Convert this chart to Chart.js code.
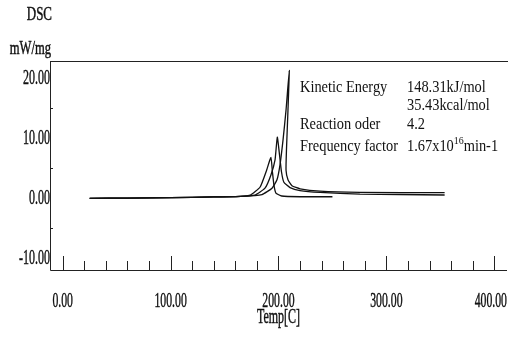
<!DOCTYPE html>
<html>
<head>
<meta charset="utf-8">
<title>DSC</title>
<script src="https://cdn.jsdelivr.net/npm/chart.js@4.4.1/dist/chart.umd.min.js"></script>
<style>
  html, body { margin: 0; padding: 0; background: #fff; }
  #wrap { position: relative; width: 508px; height: 342px; }
</style>
</head>
<body>
<div id="wrap"><canvas id="dscChart"></canvas></div>
<script>
// DSC runs: temperature [C] and heat flow [mW/mg]
const run1Temp = [25, 60, 100, 140, 165, 174, 183, 189, 193, 194.4, 195.8, 197.6, 203, 220, 250];
const run1Dsc  = [0.02, 0.05, 0.12, 0.25, 0.35, 0.55, 1.9, 4.7, 6.85, 4.4, 2.2, 0.9, 0.4, 0.28, 0.28];

const run2Temp = [25, 60, 100, 140, 165, 178, 187.5, 193, 196.8, 198.9, 201, 202.8, 205, 210.7, 220, 238.5, 275.5, 312.6, 354];
const run2Dsc  = [0.02, 0.05, 0.12, 0.25, 0.35, 0.55, 1.7, 3.9, 6.4, 10.2, 7.2, 4.4, 2.7, 1.8, 1.3, 1.0, 0.73, 0.65, 0.57];

const run3Temp = [25, 60, 100, 140, 165, 184.7, 194, 198.6, 201.4, 204.2, 207, 210, 208.8, 207.4, 207, 208.8, 212.5, 220, 238.5, 275.5, 354];
const run3Dsc  = [0.02, 0.05, 0.12, 0.25, 0.35, 0.65, 1.7, 3.1, 5.6, 9.7, 14.7, 21.3, 14.7, 8.1, 4.7, 3.1, 2.1, 1.6, 1.2, 1.0, 0.95];

const xTickLabels = [0, 100, 200, 300, 400];
const yTickLabels = [20, 10, 0, -10];

const kineticRows = [
  ['Kinetic Energy', '148.31kJ/mol'],
  ['', '35.43kcal/mol'],
  ['Reaction oder', '4.2'],
  ['Frequency factor', '1.67x10', '16', 'min-1']
];

const SERIF = '"Liberation Serif", "Times New Roman", serif';

// draws horizontally squeezed text, returns drawn width
function squeezed(ctx, text, x, y, size, sx, align, heavy, maxRight) {
  ctx.save();
  ctx.font = size + 'px ' + SERIF;
  const w = ctx.measureText(text).width * sx;
  let left = x;
  if (align === 'center') left = x - w / 2;
  else if (align === 'right') left = x - w;
  if (maxRight && left + w > maxRight) left = maxRight - w;
  ctx.translate(left, y);
  ctx.scale(sx, 1);
  ctx.fillStyle = '#111';
  ctx.textAlign = 'left';
  ctx.textBaseline = 'middle';
  ctx.fillText(text, 0, 0);
  if (heavy) {
    ctx.strokeStyle = '#111';
    ctx.lineWidth = 0.45;
    ctx.strokeText(text, 0, 0);
  }
  ctx.restore();
  return w;
}

const frame = {
  id: 'frame',
  afterDraw(chart) {
    const { ctx, chartArea: a, scales: { x, y } } = chart;
    ctx.save();
    ctx.strokeStyle = '#222';
    ctx.lineWidth = 1;
    ctx.beginPath();
    ctx.moveTo(a.left + 0.5, a.top);
    ctx.lineTo(a.left + 0.5, a.bottom + 0.5);
    ctx.lineTo(a.right, a.bottom + 0.5);
    ctx.moveTo(a.left, a.top + 0.5);
    ctx.lineTo(chart.width, a.top + 0.5);
    // x ticks every 20, taller every 100
    for (let v = 0; v <= 400; v += 20) {
      const px = Math.round(x.getPixelForValue(v)) + 0.5;
      const len = v % 100 === 0 ? 14 : 9;
      ctx.moveTo(px, a.bottom);
      ctx.lineTo(px, a.bottom - len);
    }
    // small y ticks between labels
    for (let v = -5; v <= 15; v += 10) {
      const py = Math.round(y.getPixelForValue(v)) + 0.5;
      ctx.moveTo(a.left, py);
      ctx.lineTo(a.left + 3, py);
    }
    ctx.stroke();
    ctx.restore();

    xTickLabels.forEach(v => {
      squeezed(ctx, v.toFixed(2), x.getPixelForValue(v), 301, 21, 0.56, 'center', true, chart.width - 1);
    });
    yTickLabels.forEach(v => {
      squeezed(ctx, v.toFixed(2), a.left, y.getPixelForValue(v), 21, 0.57, 'right', true);
    });
    squeezed(ctx, 'DSC', 52, 15, 18, 0.72, 'right', true);
    squeezed(ctx, 'mW/mg', 51, 49, 18, 0.7, 'right', true);
    squeezed(ctx, 'Temp[C]', x.getPixelForValue(200), 318, 20, 0.6, 'center', true);

    // kinetic parameters block
    const rowY = [88, 106, 125, 147];
    kineticRows.forEach((row, i) => {
      if (row[0]) squeezed(ctx, row[0], 300, rowY[i], 16, 0.9, 'left');
      let cx = 407;
      cx += squeezed(ctx, row[1], cx, rowY[i], 16, 0.9, 'left');
      if (row[2]) {
        cx += squeezed(ctx, row[2], cx, rowY[i] - 6, 11, 0.9, 'left');
        squeezed(ctx, row[3], cx, rowY[i], 16, 0.9, 'left');
      }
    });
  }
};

const toPoints = (t, d) => t.map((v, i) => ({ x: v, y: d[i] }));
const curve = (t, d) => ({
  data: toPoints(t, d),
  showLine: true,
  borderColor: '#111',
  borderWidth: 1.3,
  pointRadius: 0,
  tension: 0.15,
  fill: false
});

new Chart(document.getElementById('dscChart'), {
  type: 'scatter',
  data: {
    datasets: [curve(run1Temp, run1Dsc), curve(run2Temp, run2Dsc), curve(run3Temp, run3Dsc)]
  },
  options: {
    responsive: true,
    maintainAspectRatio: false,
    animation: false,
    layout: { padding: { left: 50, top: 61, right: 1, bottom: 72 } },
    plugins: { legend: { display: false }, tooltip: { enabled: false } },
    scales: {
      x: { type: 'linear', display: false, min: -11.77, max: 411.8 },
      y: { type: 'linear', display: false, min: -11.92, max: 22.88 }
    }
  },
  plugins: [frame]
});
</script>
</body>
</html>
